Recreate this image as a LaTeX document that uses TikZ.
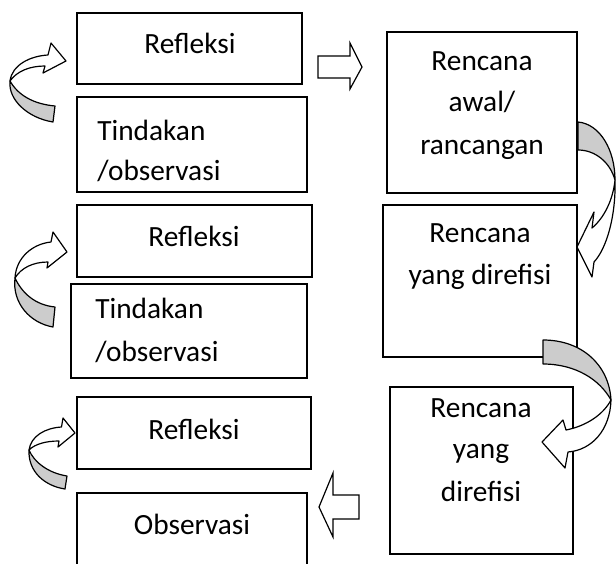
\documentclass[tikz,border=0pt]{standalone}
\usepackage{fontspec}
\setmainfont{Carlito}
\usetikzlibrary{fit}
\definecolor{bandgray}{gray}{0.80}
\tikzset{
  box/.style={draw, line width=1.2pt, inner sep=0pt, fill=white},
  txt/.style={font=\fontsize{22}{31}\selectfont, anchor=base, inner sep=0pt},
  txtl/.style={txt, anchor=base west},
  blk/.style={draw, line width=0.9pt, fill=white, line join=miter},
  bandw/.style={draw, line width=0.9pt, fill=white, line join=round},
  bandg/.style={draw, line width=0.9pt, fill=bandgray, line join=round}
}
\begin{document}
\begin{tikzpicture}[x=0.75pt,y=-0.75pt]
\useasboundingbox (0,0) rectangle (616,563);
% boxes
\node[box, fit={(77,13) (302,84)}] (b1) {};
\node[box, fit={(77,97) (307,192)}] (b2) {};
\node[box, fit={(387,32) (577,193)}] (b3) {};
\node[box, fit={(77,205) (312,277)}] (b4) {};
\node[box, fit={(71,284) (307,378)}] (b5) {};
\node[box, fit={(383,205) (577,357)}] (b6) {};
\node[box, fit={(77,397) (311,469)}] (b7) {};
\node[box, fit={(77,493) (307,580)}] (b8) {};
\node[box, fit={(390,387) (573,554)}] (b9) {};
% texts
\node[txt] (t1) at (190,54) {Refleksi};
\node[txtl] (t2a) at (97,141) {Tindakan};
\node[txtl] (t2b) at (97,180) {/observasi};
\node[txt] (t3a) at (482,71) {Rencana};
\node[txt] (t3b) at (482,112) {awal/};
\node[txt] (t3c) at (482,154) {rancangan};
\node[txt] (t4) at (194,246) {Refleksi};
\node[txtl] (t5a) at (95,318) {Tindakan};
\node[txtl] (t5b) at (95,361) {/observasi};
\node[txt] (t6a) at (480,242) {Rencana};
\node[txt] (t6b) at (480,284) {yang direfisi};
\node[txt] (t7) at (194,439) {Refleksi};
\node[txt] (t8) at (192,534) {Observasi};
\node[txt] (t9a) at (481,417) {Rencana};
\node[txt] (t9b) at (481,458) {yang};
\node[txt] (t9c) at (481,501) {direfisi};
% block arrows
\draw[blk] (318,56) -- (350,56) -- (350,43) -- (362,67) -- (350,89) -- (350,78) -- (318,78) -- cycle;
\draw[blk] (359,495) -- (333,495) -- (333,473) -- (319,507) -- (333,537) -- (333,519) -- (359,519) -- cycle;
% left curved arrows
\draw[bandw] (10,81) .. controls (12,65) and (30,56) .. (48,55) -- (51,43) -- (66,61) -- (43,73) -- (45,66) .. controls (30,66) and (17,71) .. (10,81) -- cycle;
\draw[bandg] (53,122) .. controls (28,118) and (8,100) .. (10,81) .. controls (18,95) and (33,104) .. (55,106) -- cycle;
\draw[bandw] (15,278) .. controls (16,258) and (32,244) .. (51,242) -- (53,232) -- (67,252) -- (47,268) -- (48,262) .. controls (33,262) and (21,268) .. (15,278) -- cycle;
\draw[bandg] (53,327) .. controls (30,323) and (12,303) .. (15,278) .. controls (22,293) and (35,305) .. (55,307) -- cycle;
\draw[bandw] (29,450) .. controls (31,436) and (45,428) .. (61.5,427) -- (63,418) -- (75,433) -- (58,447) -- (59,441) .. controls (46,441) and (35,444) .. (29,450) -- cycle;
\draw[bandg] (65,489) .. controls (45,486) and (28,472) .. (29,450) .. controls (34,462) and (48,473) .. (67,476) -- cycle;
% right curved arrows
\draw[bandw] (615,180) .. controls (616,215) and (607,248) .. (594,262) -- (592,277) -- (577,247) -- (594,212) -- (592,228) .. controls (604,218) and (613,200) .. (615,180) -- cycle;
\draw[bandg] (578,122) .. controls (600,124) and (615,150) .. (615,180) .. controls (610,162) and (595,150) .. (578,150) -- cycle;
\draw[bandw] (611,400) .. controls (610,430) and (592,450) .. (568,452) -- (565,468) -- (542,442) -- (563,420) -- (566,430) .. controls (586,426) and (603,415) .. (611,400) -- cycle;
\draw[bandg] (543,340) .. controls (582,340) and (609,365) .. (611,400) .. controls (600,380) and (576,364) .. (543,364) -- cycle;
\end{tikzpicture}
\end{document}
